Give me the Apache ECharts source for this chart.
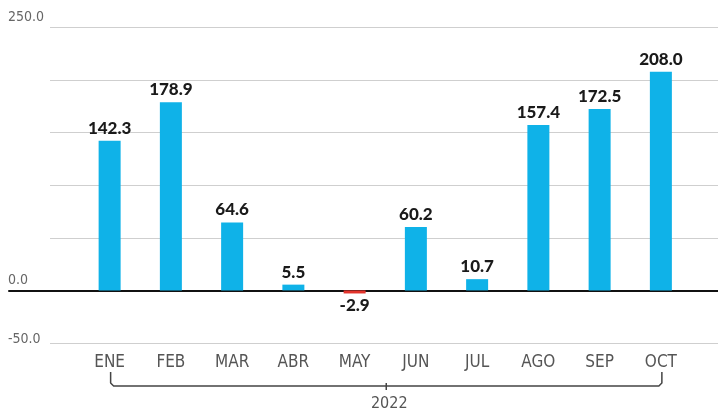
<!DOCTYPE html>
<html>
<head>
<meta charset="utf-8">
<script src="https://cdn.jsdelivr.net/npm/echarts@6/dist/echarts.min.js"></script>
<style>
html,body{margin:0;padding:0;background:#fff;}
#c{width:718px;height:412px;}
</style>
</head>
<body>
<div id="c"></div>
<script>
const categories = ['ENE','FEB','MAR','ABR','MAY','JUN','JUL','AGO','SEP','OCT'];
const values = [142.3, 178.9, 64.6, 5.5, -2.9, 60.2, 10.7, 157.4, 172.5, 208.0];
const yMin = -50, yMax = 250, yStep = 50;
const yLabelTicks = [250, 0, -50];
const yearLabel = '2022';

const BLUE = '#0fb2e8';
const RED = '#e2332b';
const narrow = '"Liberation Sans Narrow","DejaVu Sans Condensed",sans-serif';

const chart = echarts.init(document.getElementById('c'), null, {renderer:'canvas'});

const barData = values.map(v => ({
  value: v,
  itemStyle: {color: v < 0 ? RED : BLUE},
  label: {position: v < 0 ? 'bottom' : 'top'}
}));

const gridTop = 27.5, gridBottom = 69;
const yFont = '"Liberation Sans Narrow","DejaVu Sans Condensed",sans-serif';

chart.setOption({
  animation: false,
  grid: [
    {left: 50, right: 0, top: gridTop, bottom: gridBottom},
    {left: 79, right: 26.5, top: gridTop, bottom: gridBottom},
    {left: 9, right: 0, top: gridTop, bottom: gridBottom}
  ],
  xAxis: [
    {gridIndex: 0, type: 'value', show: false},
    {gridIndex: 1, type: 'category', data: categories, position: 'bottom',
     axisLine: {show: false}, axisTick: {show: false},
     axisLabel: {margin: 11, color: '#555', fontFamily: narrow, fontSize: 17}},
    {gridIndex: 2, type: 'category', data: [''], axisTick: {show: false},
     axisLabel: {show: false},
     axisLine: {show: true, onZero: true, lineStyle: {color: '#111', width: 2}}}
  ],
  yAxis: [
    {gridIndex: 0, type: 'value', min: yMin, max: yMax, interval: yStep,
     axisLine: {show: false}, axisTick: {show: false},
     splitLine: {show: true, lineStyle: {color: '#cfcfcf', width: 1}},
     axisLabel: {
       align: 'left', margin: 42, color: '#666', fontFamily: yFont, fontSize: 14,
       formatter: v => {
         if (!yLabelTicks.includes(v)) return '';
         const s = v.toFixed(1);
         return v < 0 ? '{lo|' + s + '}' : '{hi|' + s + '}';
       },
       rich: {
         hi: {padding: [0,0,21,0], color: '#666', fontSize: 14, fontFamily: yFont},
         lo: {padding: [0,0,8,0], color: '#666', fontSize: 14, fontFamily: yFont}
       }
     }},
    {gridIndex: 1, type: 'value', min: yMin, max: yMax, interval: yStep, show: false},
    {gridIndex: 2, type: 'value', min: yMin, max: yMax, interval: yStep, show: false}
  ],
  series: [{
    type: 'bar',
    xAxisIndex: 1, yAxisIndex: 1,
    data: barData,
    barWidth: 22,
    z: 1,
    label: {
      show: true, distance: 4,
      color: '#1a1a1a', fontFamily: 'Lato, "Open Sans", sans-serif', fontWeight: 900, fontSize: 17,
      formatter: p => p.value.toFixed(1)
    }
  }, {
    type: 'bar', xAxisIndex: 2, yAxisIndex: 2, data: [], silent: true
  }]
});

// Year bracket below the category labels, anchored to first/last categories
const xL = chart.convertToPixel({xAxisIndex: 1}, categories[0]) + 1;
const xR = chart.convertToPixel({xAxisIndex: 1}, categories[categories.length - 1]) + 1;
const xc = (xL + xR) / 2;
const yTop = 372, yH = 386;
chart.setOption({
  graphic: [
    {type: 'polyline', shape: {points: [[xL, yTop], [xL, yH - 3], [xL + 3, yH], [xR - 3, yH], [xR, yH - 3], [xR, yTop]]},
     style: {stroke: '#444', lineWidth: 1.5, fill: null, lineJoin: 'round'}},
    {type: 'line', shape: {x1: xc, y1: yH - 3, x2: xc, y2: yH + 4}, style: {stroke: '#444', lineWidth: 1.5}},
    {type: 'text', x: xc + 3, y: 404,
     style: {text: yearLabel, fill: '#555', font: '16px ' + narrow, textAlign: 'center', textVerticalAlign: 'middle'}}
  ]
});
</script>
</body>
</html>
